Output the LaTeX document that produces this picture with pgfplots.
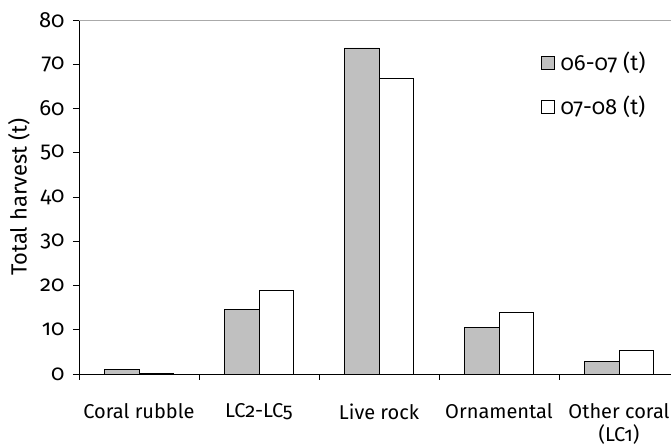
\documentclass[border=0pt]{standalone}
\usepackage{fontspec}
\setmainfont{Fira Sans}[Numbers=OldStyle]
\usepackage{pgfplots}
\pgfplotsset{compat=1.18}
\definecolor{barfill}{RGB}{192,192,192}
\definecolor{topline}{RGB}{170,170,170}
\newcommand{\lblfont}{\fontsize{20}{23}\selectfont}
\newcommand{\bigfont}{\fontsize{22}{25}\selectfont}

\begin{document}
\begin{tikzpicture}
\begin{axis}[
  name=ax,
  scale only axis, width=592pt, height=354pt,
  ybar=0pt, bar width=34.3pt,
  xmin=-0.5, xmax=4.4333, ymin=0, ymax=80,
  axis lines*=left, axis line style={line width=0.8pt},
  ytick={0,10,...,80}, ytick align=outside, major tick length=6pt,
  tick style={black, line width=0.8pt},
  xtick={0,1,2,3,4},
  xticklabels={Coral rubble, LC2-LC5, Live rock, Ornamental, {Other coral\\(LC1)}},
  major x tick style={draw=none},
  extra x ticks={-0.5,0.5,1.5,2.5,3.5}, extra x tick labels={},
  extra x tick style={major x tick style={draw=black}, xtick align=outside},
  xticklabel style={align=center, yshift=-20pt, font=\lblfont},
  yticklabel style={xshift=-5pt, font=\bigfont},
  /pgf/number format/assume math mode=true,
  ylabel={Total harvest (t)},
  every axis y label/.style={at={(rel axis cs:0,0.5)}, rotate=90, anchor=center,
    font=\bigfont, yshift=60pt},
  legend style={draw=none, fill=none, at={(rel axis cs:0.78,0.915)}, anchor=north west,
    font=\bigfont, row sep=20pt, inner sep=0pt,
    nodes={inner xsep=6pt}},
  legend cell align=left,
  legend image code/.code={\draw[#1, line width=0.6pt] (0pt,-6.5pt) rectangle (13pt,6.5pt);},
]
\addplot[fill=barfill, draw=black, line width=0.7pt] coordinates {
  (0,1.1) (1,14.5) (2,73.7) (3,10.6) (4,2.9) };
\addlegendentry{06-07 (t)}
\addplot[fill=white, draw=black, line width=0.7pt] coordinates {
  (0,0.2) (1,18.8) (2,66.8) (3,13.9) (4,5.3) };
\addlegendentry{07-08 (t)}
\draw[topline, line width=0.8pt] (rel axis cs:0,1) -- (rel axis cs:1,1);
\end{axis}
\pgfresetboundingbox
\path[use as bounding box] ([xshift=-79pt,yshift=-73pt]ax.south west) rectangle ([yshift=20pt]ax.north east);
\end{tikzpicture}
\end{document}
